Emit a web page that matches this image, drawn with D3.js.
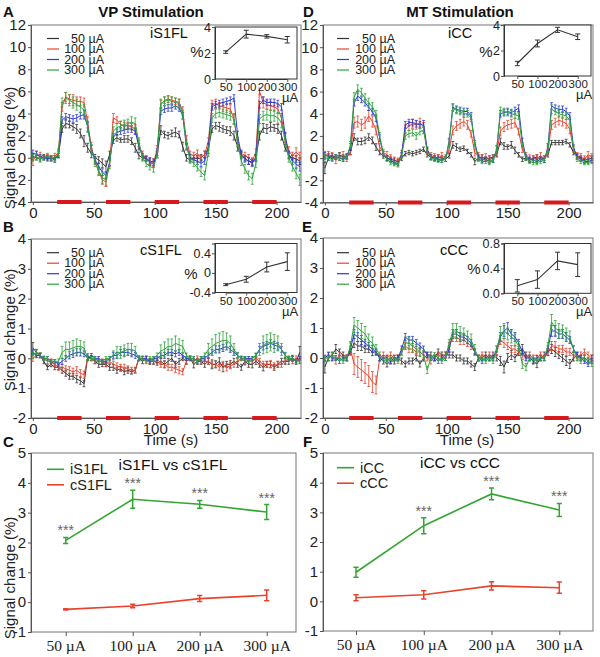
<!DOCTYPE html>
<html>
<head>
<meta charset="utf-8">
<script src="https://d3js.org/d3.v7.min.js"></script>
<style>body{margin:0;background:#fff}</style>
</head>
<body>
<div id="fig"></div>
<script>
// ---- data (signal change %, one sample every 3 s from t = 0) ----
var STEP = 3;
var currents = ["50", "100", "200", "300"];
var legendLabels = ["50 \u00b5A", "100 \u00b5A", "200 \u00b5A", "300 \u00b5A"];
var blocks = [[20, 40], [60, 80], [100, 120], [140, 160], [180, 200]];
var timeTicks = [0, 50, 100, 150, 200];

// A: iS1FL (VP stimulation)
var a50 = [0.1,0.0,-0.1,0.1,0.0,-0.1,0.0,0.2,2.6,3.1,
  3.0,2.8,2.6,2.2,1.5,0.9,0.4,0.0,-0.2,-0.5,
  -0.8,0.3,1.6,1.8,1.6,1.7,1.7,1.5,0.9,0.2,
  0.0,-0.1,-0.3,-0.4,0.3,2.5,2.1,2.0,2.2,2.3,
  2.1,1.0,0.0,-0.2,0.0,-0.1,0.0,0.3,0.8,2.6,
  2.9,2.8,2.6,2.5,2.4,2.0,1.0,0.2,-0.1,-0.3,
  -0.4,0.0,2.0,2.7,2.6,2.8,2.7,2.6,2.0,0.9,
  0.2,0.0,-0.1,-0.3];
var a100 = [-0.3,0.3,0.2,0.0,0.1,-0.1,0.1,0.5,4.6,5.5,
  5.3,5.2,5.1,5.1,5.0,3.2,1.0,-0.3,-1.2,-2.0,
  -2.2,-0.5,3.6,3.4,3.0,2.9,2.9,2.8,2.6,1.2,
  0.3,0.0,-0.3,-0.5,0.8,4.8,5.2,5.3,5.2,5.1,
  5.0,4.2,1.6,0.3,0.2,0.4,0.0,0.3,1.5,4.8,
  4.9,4.7,4.6,4.5,4.4,3.5,1.4,0.4,0.2,0.0,
  -0.3,0.5,6.0,5.0,4.8,4.7,4.6,4.4,3.6,1.8,
  0.6,0.2,0.5,0.2];
var a200 = [0.4,0.3,0.1,0.0,-0.1,0.0,-0.2,0.3,3.4,3.7,
  3.6,3.5,3.6,3.8,3.9,2.8,0.8,-0.2,-0.8,-1.3,
  -1.6,-0.4,1.9,2.3,2.4,2.5,2.6,2.6,2.4,1.0,
  0.2,-0.1,-0.4,-0.6,0.5,4.2,4.4,4.5,4.5,4.7,
  4.5,3.8,1.0,0.0,-0.2,-0.3,-0.5,-0.3,1.0,4.6,
  4.8,4.9,5.0,5.1,5.2,5.4,2.0,0.3,-0.1,-0.3,
  -0.5,0.0,4.8,5.2,5.0,5.0,5.0,4.9,4.6,2.0,
  0.3,-0.3,-0.6,-0.8];
var a300 = [0.0,0.1,-0.1,0.0,0.2,0.0,-0.1,0.4,5.0,5.4,
  5.2,5.0,4.8,4.6,4.3,2.8,0.8,-0.4,-1.2,-1.8,
  -2.0,-0.6,2.4,2.7,2.9,3.0,3.1,3.2,3.1,1.4,
  0.0,-0.5,-0.8,-0.9,0.3,4.9,5.1,5.2,5.1,5.0,
  4.9,3.9,1.2,-0.2,-0.5,-0.9,-1.3,-1.6,0.5,3.6,
  4.0,4.1,4.0,3.9,3.8,3.5,1.4,-0.3,-1.0,-1.6,
  -1.9,-0.5,3.5,3.8,3.9,3.8,3.8,3.6,3.2,1.5,
  0.0,-0.8,-1.4,-2.0];
var eA50 = [0.3,0.2,0.2,0.2,0.2,0.2,0.2,0.2,0.3,0.4,
  0.3,0.3,0.4,0.4,0.5,0.4,0.4,0.3,0.3,0.4,
  0.5,0.3,0.3,0.3,0.2,0.3,0.3,0.3,0.4,0.3,
  0.2,0.2,0.3,0.3,0.3,0.4,0.3,0.3,0.3,0.4,
  0.3,0.4,0.3,0.2,0.2,0.3,0.3,0.3,0.4,0.3,
  0.3,0.4,0.3,0.3,0.4,0.4,0.4,0.3,0.2,0.3,
  0.3,0.3,0.4,0.4,0.4,0.4,0.3,0.4,0.4,0.3,
  0.3,0.2,0.3,0.3];
var eA100 = [0.4,0.3,0.3,0.2,0.2,0.2,0.3,0.3,0.4,0.4,
  0.4,0.5,0.4,0.4,0.4,0.5,0.4,0.3,0.3,0.4,
  0.4,0.3,0.4,0.3,0.3,0.3,0.3,0.3,0.4,0.4,
  0.3,0.2,0.3,0.3,0.3,0.4,0.3,0.3,0.3,0.3,
  0.3,0.4,0.4,0.3,0.3,0.3,0.2,0.3,0.3,0.4,
  0.4,0.3,0.4,0.4,0.4,0.4,0.4,0.3,0.3,0.3,
  0.3,0.3,0.3,0.5,0.4,0.4,0.4,0.4,0.4,0.4,
  0.4,0.3,0.4,0.3];
var eA200 = [0.3,0.3,0.2,0.2,0.2,0.2,0.2,0.3,0.3,0.3,
  0.3,0.3,0.3,0.3,0.4,0.4,0.3,0.3,0.3,0.3,
  0.3,0.3,0.3,0.3,0.3,0.3,0.3,0.3,0.3,0.3,
  0.2,0.2,0.3,0.3,0.3,0.3,0.3,0.3,0.3,0.3,
  0.3,0.3,0.3,0.3,0.2,0.3,0.3,0.3,0.3,0.3,
  0.3,0.3,0.3,0.3,0.3,0.3,0.4,0.3,0.3,0.3,
  0.3,0.3,0.3,0.3,0.3,0.3,0.3,0.3,0.3,0.3,
  0.3,0.3,0.4,0.4];
var eA300 = [0.3,0.3,0.3,0.2,0.2,0.2,0.3,0.3,0.4,0.5,
  0.5,0.5,0.5,0.5,0.5,0.5,0.4,0.4,0.4,0.5,
  0.5,0.4,0.4,0.4,0.4,0.4,0.4,0.5,0.5,0.4,
  0.3,0.3,0.3,0.4,0.3,0.4,0.4,0.4,0.4,0.4,
  0.4,0.4,0.4,0.3,0.3,0.3,0.4,0.4,0.4,0.4,
  0.4,0.4,0.4,0.4,0.4,0.5,0.4,0.4,0.4,0.4,
  0.5,0.4,0.4,0.4,0.5,0.5,0.5,0.5,0.5,0.4,
  0.4,0.4,0.5,0.5];

// B: cS1FL (VP stimulation)
var b50 = [0.35,0.2,0.1,-0.1,-0.3,-0.2,-0.3,-0.3,-0.4,-0.5,
  -0.6,-0.6,-0.7,-0.75,-0.85,0.05,0.0,-0.1,-0.2,-0.2,
  -0.2,-0.3,-0.3,-0.4,-0.35,-0.45,-0.4,-0.45,-0.4,0.0,
  -0.1,0.0,-0.1,-0.1,-0.15,-0.1,-0.2,-0.1,0.0,-0.2,
  -0.1,0.0,-0.1,0.0,-0.2,-0.1,-0.1,-0.2,-0.1,-0.2,
  -0.2,-0.1,-0.3,-0.2,-0.2,-0.1,-0.2,-0.3,-0.1,-0.2,
  -0.2,-0.1,-0.2,-0.3,-0.2,-0.2,-0.3,-0.2,-0.1,-0.1,
  -0.1,0.0,-0.1,0.2];
var b100 = [0.0,0.1,0.1,0.0,-0.1,-0.1,-0.2,-0.3,-0.3,-0.35,
  -0.4,-0.45,-0.4,-0.5,-0.55,0.0,0.0,-0.1,-0.1,-0.1,
  -0.2,-0.1,-0.2,-0.25,-0.3,-0.3,-0.35,-0.4,-0.4,0.0,
  0.0,-0.1,-0.1,-0.1,-0.1,-0.2,-0.2,-0.3,-0.3,-0.35,
  -0.4,-0.45,-0.1,0.0,-0.1,0.0,-0.1,-0.1,-0.1,-0.2,
  -0.2,-0.3,-0.2,-0.3,-0.25,-0.2,-0.1,0.0,-0.1,-0.1,
  -0.1,0.0,-0.1,-0.2,-0.2,-0.2,-0.25,-0.2,-0.2,-0.1,
  0.0,-0.1,0.0,-0.1];
var b200 = [0.2,0.1,0.1,0.0,0.0,-0.1,-0.1,-0.2,-0.1,0.0,
  0.1,0.15,0.2,0.2,0.15,0.0,0.1,0.0,0.0,-0.1,
  -0.1,0.0,0.1,0.1,0.2,0.2,0.2,0.15,0.1,0.0,
  0.0,0.0,-0.1,0.0,0.0,0.1,0.1,0.2,0.2,0.15,
  0.2,0.1,0.0,0.0,0.0,-0.1,0.0,0.0,0.1,0.2,
  0.3,0.3,0.35,0.4,0.3,0.2,0.1,0.0,0.0,0.0,
  0.0,0.1,0.3,0.4,0.45,0.5,0.45,0.4,0.3,0.1,
  0.0,0.0,-0.1,0.0];
var b300 = [0.1,0.2,0.1,0.0,0.0,-0.1,-0.1,-0.1,0.2,0.3,
  0.3,0.35,0.4,0.4,0.35,0.0,0.0,0.0,-0.1,-0.1,
  0.0,0.0,0.1,0.2,0.2,0.25,0.3,0.3,0.25,0.0,
  0.0,-0.1,0.0,0.0,0.1,0.25,0.3,0.4,0.4,0.5,
  0.45,0.4,0.1,0.0,0.0,-0.1,0.0,0.1,0.3,0.4,
  0.5,0.55,0.6,0.6,0.5,0.3,0.1,0.0,0.0,-0.1,
  0.0,0.1,0.3,0.45,0.5,0.55,0.5,0.5,0.3,0.1,
  0.0,0.0,-0.1,-0.1];
var eB50 = [0.18,0.1,0.08,0.08,0.08,0.08,0.08,0.08,0.1,0.1,
  0.1,0.1,0.12,0.12,0.1,0.1,0.08,0.08,0.1,0.08,
  0.08,0.1,0.1,0.1,0.08,0.1,0.1,0.08,0.08,0.08,
  0.08,0.08,0.1,0.1,0.08,0.1,0.12,0.1,0.1,0.1,
  0.1,0.08,0.1,0.08,0.12,0.1,0.1,0.1,0.1,0.15,
  0.12,0.12,0.15,0.1,0.12,0.1,0.1,0.1,0.12,0.1,
  0.12,0.1,0.1,0.12,0.1,0.1,0.1,0.1,0.1,0.1,
  0.1,0.1,0.1,0.2];
var eB100 = [0.1,0.08,0.08,0.08,0.08,0.08,0.08,0.1,0.1,0.1,
  0.12,0.12,0.12,0.12,0.12,0.08,0.08,0.08,0.08,0.08,
  0.08,0.08,0.1,0.1,0.1,0.1,0.1,0.1,0.1,0.08,
  0.08,0.08,0.08,0.08,0.08,0.1,0.1,0.1,0.1,0.12,
  0.12,0.1,0.08,0.08,0.08,0.08,0.08,0.08,0.1,0.1,
  0.1,0.1,0.1,0.12,0.1,0.1,0.08,0.08,0.08,0.08,
  0.08,0.08,0.1,0.1,0.1,0.12,0.1,0.1,0.1,0.08,
  0.08,0.08,0.08,0.08];
var eB200 = [0.08,0.06,0.06,0.06,0.06,0.06,0.06,0.06,0.1,0.1,
  0.12,0.12,0.12,0.12,0.1,0.06,0.06,0.06,0.06,0.06,
  0.06,0.06,0.1,0.1,0.1,0.12,0.1,0.1,0.1,0.06,
  0.06,0.06,0.06,0.06,0.06,0.08,0.1,0.1,0.1,0.1,
  0.1,0.08,0.06,0.06,0.06,0.06,0.06,0.06,0.08,0.1,
  0.12,0.12,0.12,0.12,0.1,0.1,0.08,0.06,0.06,0.06,
  0.06,0.06,0.1,0.12,0.12,0.12,0.12,0.12,0.1,0.08,
  0.06,0.06,0.06,0.06];
var eB300 = [0.1,0.08,0.08,0.06,0.06,0.06,0.06,0.08,0.2,0.25,
  0.25,0.25,0.25,0.2,0.2,0.08,0.06,0.06,0.06,0.06,
  0.06,0.06,0.15,0.2,0.2,0.2,0.2,0.2,0.15,0.06,
  0.06,0.06,0.06,0.06,0.08,0.2,0.25,0.25,0.25,0.25,
  0.2,0.2,0.08,0.06,0.06,0.06,0.06,0.08,0.2,0.25,
  0.3,0.3,0.3,0.25,0.25,0.2,0.1,0.06,0.06,0.06,
  0.06,0.08,0.2,0.3,0.3,0.3,0.3,0.25,0.2,0.1,
  0.06,0.06,0.06,0.06];

// D: iCC (MT stimulation)
var d50 = [-0.9,0.0,0.2,0.1,0.3,0.1,0.2,0.5,1.9,1.5,
  1.5,1.6,1.9,1.6,1.0,0.5,0.2,0.0,-0.1,-0.2,
  -0.3,0.0,0.4,0.5,0.4,0.5,0.6,0.8,0.3,0.1,
  0.0,0.1,0.0,-0.1,0.2,1.2,1.0,0.8,0.9,0.6,
  0.3,-0.3,0.0,0.1,-0.1,0.0,0.1,0.3,1.5,1.1,
  1.0,1.2,0.7,0.3,-0.1,0.0,-0.2,0.0,0.1,-0.1,
  0.0,0.3,1.4,1.4,1.4,1.4,1.5,1.2,0.5,0.2,
  0.0,-0.2,-0.1,0.0];
var d100 = [0.3,0.3,0.2,-0.2,0.1,0.3,0.0,0.6,3.2,3.3,
  3.0,3.2,3.8,3.3,2.5,1.0,0.5,0.3,0.0,-0.2,
  -0.3,0.4,2.6,2.9,3.1,3.0,3.2,2.8,0.6,0.2,
  0.1,0.0,0.2,0.0,0.8,2.5,2.9,3.1,3.3,3.0,
  2.2,0.5,0.2,0.0,0.1,-0.1,0.0,0.5,2.4,2.8,
  3.0,3.1,3.2,2.4,0.8,0.2,0.0,-0.1,0.0,0.2,
  -0.1,0.6,3.0,3.2,3.4,3.3,3.1,2.6,0.8,0.2,
  0.1,-0.1,0.3,0.1];
var d200 = [0.2,0.2,0.0,0.1,0.0,-0.1,0.1,1.0,5.0,5.6,
  5.3,5.0,4.6,4.2,3.6,1.8,0.4,0.0,-0.2,-0.4,
  -0.5,0.3,3.0,3.2,3.2,3.1,3.0,3.1,0.8,0.1,
  0.0,-0.1,-0.2,-0.1,1.5,4.6,4.4,4.3,4.2,4.2,
  3.8,1.4,0.1,-0.2,-0.1,-0.3,-0.2,0.8,4.0,4.1,
  4.2,4.1,4.3,4.5,1.6,0.1,-0.1,-0.2,-0.3,-0.1,
  -0.2,1.0,4.7,4.5,4.4,4.4,4.2,3.8,1.0,0.1,
  -0.1,-0.3,-0.3,-0.2];
var d300 = [0.0,0.0,-0.1,0.1,0.0,0.0,0.1,1.2,5.5,6.2,
  5.9,5.4,5.0,4.6,4.0,2.0,0.4,-0.1,-0.4,-0.5,
  -0.6,0.2,2.0,2.2,2.3,2.0,2.4,2.5,0.6,0.0,
  -0.1,-0.2,-0.2,-0.1,1.4,4.5,4.3,4.2,4.0,4.0,
  3.6,1.2,-0.1,-0.3,-0.3,-0.4,-0.2,0.8,4.3,4.2,
  4.1,4.0,3.9,3.8,1.2,0.0,-0.3,-0.4,-0.4,-0.3,
  -0.2,0.8,4.4,4.2,4.0,3.9,3.8,3.4,0.8,-0.1,
  -0.3,-0.4,-0.4,-0.3];
var eD50 = [0.5,0.2,0.2,0.2,0.2,0.2,0.2,0.2,0.3,0.3,
  0.3,0.3,0.3,0.3,0.3,0.2,0.2,0.2,0.2,0.2,
  0.2,0.2,0.2,0.2,0.2,0.2,0.2,0.2,0.2,0.2,
  0.2,0.2,0.2,0.2,0.2,0.3,0.3,0.2,0.2,0.2,
  0.2,0.3,0.2,0.2,0.2,0.2,0.2,0.2,0.3,0.3,
  0.2,0.3,0.3,0.2,0.2,0.2,0.2,0.2,0.2,0.2,
  0.2,0.2,0.2,0.2,0.2,0.2,0.2,0.2,0.2,0.2,
  0.2,0.2,0.2,0.2];
var eD100 = [0.3,0.3,0.3,0.3,0.3,0.3,0.3,0.3,0.5,0.5,
  0.5,0.5,0.5,0.5,0.4,0.3,0.3,0.3,0.3,0.3,
  0.3,0.3,0.4,0.4,0.4,0.4,0.4,0.4,0.3,0.3,
  0.3,0.3,0.3,0.3,0.3,0.4,0.4,0.4,0.4,0.4,
  0.3,0.3,0.3,0.3,0.3,0.3,0.3,0.3,0.4,0.4,
  0.4,0.4,0.4,0.3,0.3,0.3,0.3,0.3,0.3,0.3,
  0.3,0.3,0.4,0.4,0.4,0.4,0.4,0.4,0.3,0.3,
  0.3,0.3,0.3,0.3];
var eD200 = [0.3,0.2,0.2,0.2,0.2,0.2,0.2,0.3,0.3,0.4,
  0.3,0.3,0.3,0.3,0.3,0.3,0.2,0.2,0.2,0.2,
  0.2,0.2,0.3,0.3,0.3,0.3,0.3,0.3,0.2,0.2,
  0.2,0.2,0.2,0.2,0.3,0.3,0.3,0.3,0.3,0.3,
  0.3,0.2,0.2,0.2,0.2,0.2,0.2,0.3,0.3,0.3,
  0.3,0.3,0.3,0.3,0.2,0.2,0.2,0.2,0.2,0.2,
  0.2,0.3,0.3,0.3,0.3,0.3,0.3,0.3,0.2,0.2,
  0.2,0.2,0.2,0.2];
var eD300 = [0.3,0.2,0.2,0.2,0.2,0.2,0.2,0.3,0.4,0.4,
  0.4,0.4,0.4,0.4,0.3,0.3,0.2,0.2,0.2,0.2,
  0.2,0.2,0.3,0.3,0.3,0.3,0.3,0.3,0.2,0.2,
  0.2,0.2,0.2,0.2,0.3,0.3,0.3,0.3,0.3,0.3,
  0.3,0.2,0.2,0.2,0.2,0.2,0.2,0.3,0.3,0.3,
  0.3,0.3,0.3,0.3,0.2,0.2,0.2,0.2,0.2,0.2,
  0.2,0.3,0.4,0.3,0.3,0.3,0.3,0.3,0.2,0.2,
  0.2,0.2,0.2,0.2];

// E: cCC (MT stimulation)
var e50 = [-0.3,0.0,0.1,0.3,0.2,0.1,0.0,0.2,0.5,0.4,
  0.4,0.3,0.3,0.2,0.2,0.0,-0.1,-0.2,-0.1,-0.1,
  0.0,-0.1,-0.2,-0.1,-0.1,0.0,-0.2,0.0,0.1,0.1,
  0.0,0.2,0.1,0.1,0.1,0.1,0.0,0.0,-0.1,-0.1,
  -0.2,-0.3,0.0,0.0,0.1,0.0,0.1,0.0,-0.1,-0.3,
  0.0,0.1,0.0,0.2,0.3,0.1,0.0,-0.1,-0.2,0.0,
  0.1,0.2,0.3,0.2,0.1,0.0,-0.1,-0.2,0.0,0.1,
  0.0,0.0,-0.1,0.0];
var e100 = [0.0,0.1,0.0,-0.1,0.1,0.0,0.0,0.3,-0.2,-0.3,
  -0.4,-0.5,-0.6,-0.8,-0.9,0.0,0.1,0.0,0.1,0.0,
  0.0,0.2,0.4,0.3,0.3,0.2,0.2,0.1,0.0,-0.1,
  0.0,0.1,0.0,0.1,0.4,0.7,0.7,0.6,0.6,0.5,
  0.4,0.2,0.0,0.1,0.0,0.1,0.0,0.2,0.6,0.5,
  0.4,0.3,0.3,0.2,0.1,0.0,0.1,0.0,0.0,0.1,
  0.0,0.2,0.4,0.4,0.3,0.3,0.2,0.2,0.1,0.0,
  0.1,0.2,0.1,0.0];
var e200 = [0.0,0.1,0.0,0.0,-0.1,0.0,0.0,0.3,0.8,0.7,
  0.6,0.5,0.4,0.3,0.2,0.0,0.0,0.0,-0.1,0.0,
  0.0,0.3,0.7,0.6,0.6,0.5,0.4,0.3,0.1,0.0,
  0.0,-0.1,0.0,0.0,0.3,0.8,0.8,0.7,0.7,0.6,
  0.5,0.2,0.0,-0.1,0.0,0.0,0.0,0.3,0.7,0.9,
  1.0,0.8,0.7,0.5,0.2,0.0,0.0,-0.1,0.0,0.0,
  0.0,0.3,0.9,0.9,0.8,0.8,0.7,0.6,0.3,0.1,
  0.0,-0.1,-0.2,-0.1];
var e300 = [0.0,0.0,0.1,0.0,0.0,-0.1,0.0,0.4,1.1,1.0,
  0.9,0.8,0.6,0.5,0.3,0.1,0.0,-0.1,0.0,0.0,
  -0.1,0.2,0.5,0.5,0.4,0.3,0.2,0.1,-0.4,0.0,
  0.1,0.0,-0.1,0.0,0.5,0.9,0.9,0.8,0.8,0.7,
  0.6,0.3,0.0,0.0,-0.1,0.0,-0.1,0.3,0.8,0.9,
  0.8,0.7,0.6,0.4,-0.2,-0.3,0.0,0.0,-0.1,0.0,
  0.0,0.4,1.2,1.0,0.9,0.9,0.8,0.7,0.3,0.0,
  -0.1,0.0,-0.1,-0.2];
var eE50 = [0.2,0.1,0.1,0.15,0.1,0.1,0.1,0.1,0.15,0.15,
  0.15,0.12,0.12,0.12,0.1,0.1,0.1,0.1,0.1,0.1,
  0.1,0.1,0.1,0.1,0.1,0.1,0.1,0.1,0.1,0.1,
  0.1,0.1,0.1,0.1,0.1,0.1,0.1,0.1,0.1,0.1,
  0.1,0.12,0.1,0.1,0.1,0.1,0.1,0.1,0.15,0.2,
  0.15,0.15,0.12,0.12,0.15,0.1,0.1,0.1,0.12,0.1,
  0.1,0.12,0.15,0.15,0.12,0.12,0.15,0.15,0.1,0.1,
  0.1,0.1,0.1,0.1];
var eE100 = [0.1,0.1,0.1,0.1,0.1,0.1,0.1,0.2,0.35,0.35,
  0.35,0.35,0.35,0.35,0.3,0.1,0.1,0.1,0.1,0.1,
  0.1,0.1,0.12,0.12,0.12,0.12,0.12,0.1,0.1,0.1,
  0.1,0.1,0.1,0.1,0.12,0.15,0.15,0.15,0.15,0.12,
  0.12,0.1,0.1,0.1,0.1,0.1,0.1,0.1,0.15,0.15,
  0.12,0.12,0.12,0.1,0.1,0.1,0.1,0.1,0.1,0.1,
  0.1,0.1,0.15,0.15,0.12,0.12,0.12,0.12,0.1,0.1,
  0.1,0.1,0.1,0.1];
var eE200 = [0.08,0.08,0.08,0.08,0.08,0.08,0.08,0.1,0.15,0.15,
  0.15,0.12,0.12,0.12,0.1,0.08,0.08,0.08,0.08,0.08,
  0.08,0.1,0.12,0.12,0.12,0.12,0.1,0.1,0.08,0.08,
  0.08,0.08,0.08,0.08,0.1,0.15,0.15,0.15,0.12,0.12,
  0.12,0.1,0.08,0.08,0.08,0.08,0.08,0.1,0.15,0.18,
  0.18,0.15,0.15,0.12,0.1,0.08,0.08,0.08,0.08,0.08,
  0.08,0.1,0.18,0.18,0.15,0.15,0.15,0.12,0.1,0.08,
  0.08,0.08,0.08,0.08];
var eE300 = [0.08,0.08,0.08,0.08,0.08,0.08,0.08,0.15,0.25,0.25,
  0.25,0.25,0.2,0.2,0.15,0.1,0.08,0.08,0.08,0.08,
  0.08,0.1,0.2,0.2,0.2,0.15,0.15,0.15,0.12,0.08,
  0.08,0.08,0.08,0.08,0.12,0.25,0.25,0.25,0.2,0.2,
  0.2,0.15,0.08,0.08,0.08,0.08,0.08,0.1,0.25,0.25,
  0.2,0.2,0.2,0.15,0.15,0.12,0.08,0.08,0.08,0.08,
  0.08,0.12,0.25,0.25,0.25,0.2,0.2,0.2,0.12,0.08,
  0.08,0.08,0.08,0.08];

// C / F: mean response per current (also used in the insets)
var iS1FL = [2.07, 3.45, 3.28, 3.02];
var iS1FLerr = [0.1, 0.3, 0.13, 0.25];
var cS1FL = [-0.24, -0.13, 0.12, 0.23];
var cS1FLerr = [0.02, 0.06, 0.1, 0.18];
var iCC = [0.98, 2.55, 3.62, 3.08];
var iCCerr = [0.17, 0.27, 0.2, 0.22];
var cCC = [0.12, 0.22, 0.52, 0.46];
var cCCerr = [0.1, 0.14, 0.14, 0.19];
var starsC = ["***", "***", "***", "***"];
var starsF = ["", "***", "***", "***"];

var colors = ["#333333", "#e8432c", "#2b3bd4", "#2fa43c"];
var FONT = "Liberation Sans, Arial, sans-serif";

var svg = d3.select("#fig").append("svg")
  .attr("width", 600).attr("height", 657)
  .style("font-family", FONT);

function styleAxis(sel, size) {
  sel.attr("font-family", FONT).attr("font-size", size);
  sel.select(".domain").attr("stroke", "#555");
  sel.selectAll(".tick line").attr("stroke", "#555");
  sel.selectAll(".tick text").attr("fill", "#222");
}

function errPath(x, y, cap) {
  return function(d) {
    var xx = x(d.t), a = y(d.v - d.e), b = y(d.v + d.e);
    return "M" + xx + "," + a + "V" + b + "M" + (xx - cap) + "," + a + "h" + (2 * cap) +
      "M" + (xx - cap) + "," + b + "h" + (2 * cap);
  };
}

function label(txt, x, y, size, opts) {
  opts = opts || {};
  return svg.append("text").attr("x", x).attr("y", y)
    .attr("font-size", size)
    .attr("font-weight", opts.bold ? "bold" : null)
    .attr("text-anchor", opts.anchor || "start")
    .attr("fill", opts.fill || "#111")
    .text(txt);
}

function timePanel(p) {
  var g = svg.append("g");
  var x = d3.scaleLinear().domain([-1.5, 220]).range([p.left, p.right]);
  var y = d3.scaleLinear().domain(p.yDomain).range([p.bottom, p.top]);

  g.append("rect").attr("x", p.left).attr("y", p.top)
    .attr("width", p.right - p.left).attr("height", p.bottom - p.top)
    .attr("fill", "none").attr("stroke", "#777");

  g.append("g").attr("transform", "translate(" + p.left + ",0)")
    .call(d3.axisLeft(y).tickValues(p.yTicks).tickSize(3).tickPadding(2).tickFormat(function(d) { return String(d); }))
    .call(styleAxis, 15);
  g.append("g").attr("transform", "translate(0," + p.bottom + ")")
    .call(d3.axisBottom(x).tickValues(timeTicks).tickSize(3).tickPadding(2).tickSizeOuter(0))
    .call(styleAxis, 15);

  p.series.forEach(function(s, k) {
    var pts = s.mean.map(function(v, i) { return {t: i * STEP, v: v, e: s.err[i]}; });
    var sg = g.append("g").attr("stroke", colors[k]).attr("fill", "none");
    sg.append("path").datum(pts)
      .attr("d", d3.line().x(function(d) { return x(d.t); }).y(function(d) { return y(d.v); }))
      .attr("stroke-width", 1);
    sg.selectAll("path.eb").data(pts).join("path").attr("class", "eb")
      .attr("d", errPath(x, y, 1.4)).attr("stroke-width", 0.8);
  });

  g.selectAll("rect.stim").data(blocks).join("rect").attr("class", "stim")
    .attr("x", function(d) { return x(d[0]); })
    .attr("width", function(d) { return x(d[1]) - x(d[0]); })
    .attr("y", p.bottom - 2).attr("height", 4).attr("fill", "#d7191c");

  // legend
  legendLabels.forEach(function(l, k) {
    var ly = p.legY + k * 10.5;
    g.append("line").attr("x1", p.legX0).attr("x2", p.legX0 + 12).attr("y1", ly).attr("y2", ly)
      .attr("stroke", colors[k]).attr("stroke-width", 1.2);
    g.append("text").attr("x", p.legTextX).attr("y", ly + 4).attr("text-anchor", "end")
      .attr("font-size", 12.5).attr("fill", "#222").text(l);
  });
  label(p.tag, p.tagX, p.tagY, 14.5);
}

function inset(p) {
  var g = svg.append("g");
  var x = d3.scalePoint().domain(currents).range([p.x50, p.x300]);
  var y = d3.scaleLinear().domain(p.yDomain).range([p.bottom, p.top]);
  g.append("rect").attr("x", p.left).attr("y", p.top)
    .attr("width", p.right - p.left).attr("height", p.bottom - p.top)
    .attr("fill", "#fff").attr("stroke", "#333");
  g.append("g").attr("transform", "translate(" + p.left + ",0)")
    .call(d3.axisLeft(y).tickValues(p.yTicks).tickSize(3).tickPadding(1).tickFormat(p.fmt))
    .call(styleAxis, 12.5);
  g.append("g").attr("transform", "translate(0," + p.bottom + ")")
    .call(d3.axisBottom(x).tickSize(3).tickPadding(1).tickSizeOuter(0))
    .call(styleAxis, 11.5);
  g.selectAll(".domain").attr("stroke", "#333");
  var pts = p.mean.map(function(v, i) { return {t: currents[i], v: v, e: p.err[i]}; });
  g.append("path").datum(pts).attr("fill", "none").attr("stroke", "#333").attr("stroke-width", 1.1)
    .attr("d", d3.line().x(function(d) { return x(d.t); }).y(function(d) { return y(d.v); }));
  g.selectAll("path.eb").data(pts).join("path").attr("class", "eb")
    .attr("fill", "none").attr("stroke", "#333").attr("stroke-width", 1)
    .attr("d", errPath(x, y, 2.5));
  label("%", p.pctX, p.pctY, 15, {anchor: "middle", fill: "#222"});
  label("\u00b5A", p.right - 7, p.bottom + 23, 13, {anchor: "middle", fill: "#222"});
}

function summaryPanel(p) {
  var g = svg.append("g");
  var x = d3.scalePoint().domain(currents).range([p.x50, p.x300]);
  var y = d3.scaleLinear().domain([-1, 5]).range([p.bottom, p.top]);
  g.append("rect").attr("x", p.left).attr("y", p.top)
    .attr("width", p.right - p.left).attr("height", p.bottom - p.top)
    .attr("fill", "none").attr("stroke", "#777");
  g.append("g").attr("transform", "translate(" + p.left + ",0)")
    .call(d3.axisLeft(y).tickValues([-1, 0, 1, 2, 3, 4, 5]).tickSize(3).tickPadding(2).tickFormat(function(d) { return String(d); }))
    .call(styleAxis, 15);
  var xa = g.append("g").attr("transform", "translate(0," + p.bottom + ")")
    .call(d3.axisBottom(x).tickSize(4).tickPadding(4).tickSizeOuter(0).tickFormat(function(d) { return d + " \u00b5A"; }))
    .call(styleAxis, 15.5);
  xa.selectAll(".tick text").attr("font-family", "Liberation Serif, Times New Roman, serif");
  xa.select(".domain").remove();

  var lineColors = ["#35a532", "#e8432c"];
  p.series.forEach(function(s, k) {
    var pts = s.mean.map(function(v, i) { return {t: currents[i], v: v, e: s.err[i]}; });
    g.append("path").datum(pts).attr("fill", "none").attr("stroke", lineColors[k]).attr("stroke-width", 1.6)
      .attr("d", d3.line().x(function(d) { return x(d.t); }).y(function(d) { return y(d.v); }));
    g.selectAll("path.eb" + k).data(pts).join("path").attr("class", "eb" + k)
      .attr("fill", "none").attr("stroke", lineColors[k]).attr("stroke-width", 1.5)
      .attr("d", errPath(x, y, 2.6));
    g.append("line").attr("x1", p.legX0).attr("x2", p.legX0 + 17)
      .attr("y1", p.legY + k * 15.5).attr("y2", p.legY + k * 15.5)
      .attr("stroke", lineColors[k]).attr("stroke-width", 1.6);
    g.append("text").attr("x", p.legX0 + 23).attr("y", p.legY + k * 15.5 + 5)
      .attr("font-size", 14.5).attr("fill", "#222").text(s.name);
  });
  var green = p.series[0];
  g.selectAll("text.star").data(p.stars).join("text").attr("class", "star")
    .attr("x", function(d, i) { return x(currents[i]); })
    .attr("y", function(d, i) { return y(green.mean[i] + green.err[i]) - 2; })
    .attr("text-anchor", "middle").attr("font-size", 14).attr("fill", "#666")
    .text(function(d) { return d; });
  label(p.title, p.titleX, p.titleY, 15.5, {anchor: "middle"});
}

function yTitle(cx, cy) {
  svg.append("text").attr("transform", "translate(" + cx + "," + cy + ") rotate(-90)")
    .attr("text-anchor", "middle").attr("font-size", 15).attr("fill", "#222")
    .text("Signal change (%)");
}

// ---- panels ----
timePanel({left: 31, right: 301, top: 25, bottom: 202, yDomain: [-4, 12],
  yTicks: [-4, -2, 0, 2, 4, 6, 8, 10, 12],
  series: [{mean: a50, err: eA50}, {mean: a100, err: eA100}, {mean: a200, err: eA200}, {mean: a300, err: eA300}],
  legX0: 47, legTextX: 104, legY: 38.5, tag: "iS1FL", tagX: 150, tagY: 38});
timePanel({left: 31, right: 301, top: 239, bottom: 418, yDomain: [-2, 4],
  yTicks: [-2, -1, 0, 1, 2, 3, 4],
  series: [{mean: b50, err: eB50}, {mean: b100, err: eB100}, {mean: b200, err: eB200}, {mean: b300, err: eB300}],
  legX0: 47, legTextX: 104, legY: 252.7, tag: "cS1FL", tagX: 140, tagY: 255});
timePanel({left: 323, right: 593, top: 25, bottom: 202.5, yDomain: [-4, 12],
  yTicks: [-4, -2, 0, 2, 4, 6, 8, 10, 12],
  series: [{mean: d50, err: eD50}, {mean: d100, err: eD100}, {mean: d200, err: eD200}, {mean: d300, err: eD300}],
  legX0: 337, legTextX: 395, legY: 38.5, tag: "iCC", tagX: 448, tagY: 38});
timePanel({left: 323, right: 593, top: 238, bottom: 418, yDomain: [-2, 4],
  yTicks: [-2, -1, 0, 1, 2, 3, 4],
  series: [{mean: e50, err: eE50}, {mean: e100, err: eE100}, {mean: e200, err: eE200}, {mean: e300, err: eE300}],
  legX0: 337, legTextX: 395, legY: 252.7, tag: "cCC", tagX: 440, tagY: 255});

inset({left: 215, right: 297, top: 27, bottom: 79, x50: 225.7, x300: 287.3, yDomain: [0, 4], yTicks: [0, 2, 4],
  fmt: function(d) { return String(d); }, mean: iS1FL, err: iS1FLerr, pctX: 197, pctY: 57});
inset({left: 215, right: 297, top: 243.5, bottom: 292.5, x50: 225.7, x300: 287.3, yDomain: [-0.4, 0.6], yTicks: [-0.4, 0, 0.4],
  fmt: function(d) { return String(d); }, mean: cS1FL, err: cS1FLerr, pctX: 191, pctY: 278.5});
inset({left: 504, right: 591, top: 25, bottom: 76, x50: 517.3, x300: 577.7, yDomain: [0, 4], yTicks: [0, 2, 4],
  fmt: function(d) { return String(d); }, mean: iCC, err: iCCerr, pctX: 486, pctY: 57});
inset({left: 504, right: 591, top: 243.5, bottom: 293.3, x50: 517.3, x300: 577.7, yDomain: [0, 0.8], yTicks: [0, 0.4, 0.8],
  fmt: function(d) { return d.toFixed(1); }, mean: cCC, err: cCCerr, pctX: 474, pctY: 274});

summaryPanel({left: 31, right: 296, top: 453, bottom: 632, x50: 65.7, x300: 266.7,
  series: [{name: "iS1FL", mean: iS1FL, err: iS1FLerr}, {name: "cS1FL", mean: cS1FL, err: cS1FLerr}],
  legX0: 47, legY: 469.3, stars: starsC, title: "iS1FL vs cS1FL", titleX: 173, titleY: 470});
summaryPanel({left: 323, right: 593, top: 453, bottom: 631, x50: 356, x300: 559.3,
  series: [{name: "iCC", mean: iCC, err: iCCerr}, {name: "cCC", mean: cCC, err: cCCerr}],
  legX0: 337, legY: 467.7, stars: starsF, title: "iCC vs cCC", titleX: 460, titleY: 468});

// titles, panel letters, axis titles
label("VP Stimulation", 151, 17, 15, {bold: true, anchor: "middle"});
label("MT Stimulation", 460, 17, 15, {bold: true, anchor: "middle"});
[["A", 3, 17], ["D", 303, 17], ["B", 3, 232], ["E", 302, 232], ["C", 3, 447], ["F", 303, 447]].forEach(function(d) {
  label(d[0], d[1], d[2], 15, {bold: true});
});
yTitle(15, 148);
yTitle(15, 330);
yTitle(15, 578);
label("Time (s)", 171, 445, 15, {anchor: "middle", fill: "#222"});
label("Time (s)", 467, 445, 15, {anchor: "middle", fill: "#222"});
</script>
</body>
</html>
